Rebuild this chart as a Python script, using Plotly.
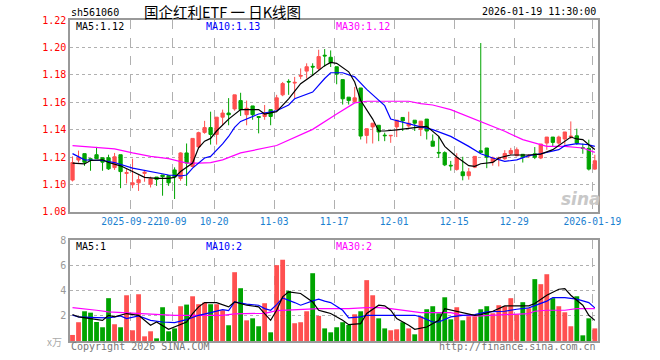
import plotly.graph_objects as go

# ---------------- data ----------------
dates = [
    "2025-09-08","2025-09-09","2025-09-10","2025-09-11","2025-09-12","2025-09-15","2025-09-16","2025-09-17","2025-09-18","2025-09-19",
    "2025-09-22","2025-09-23","2025-09-24","2025-09-25","2025-09-26","2025-09-29","2025-09-30",
    "2025-10-09","2025-10-10","2025-10-13","2025-10-14","2025-10-15","2025-10-16","2025-10-17","2025-10-20","2025-10-21","2025-10-22",
    "2025-10-23","2025-10-24","2025-10-27","2025-10-28","2025-10-29","2025-10-30","2025-10-31",
    "2025-11-03","2025-11-04","2025-11-05","2025-11-06","2025-11-07","2025-11-10","2025-11-11","2025-11-12","2025-11-13","2025-11-14",
    "2025-11-17","2025-11-18","2025-11-19","2025-11-20","2025-11-21","2025-11-24","2025-11-25","2025-11-26","2025-11-27","2025-11-28",
    "2025-12-01","2025-12-02","2025-12-03","2025-12-04","2025-12-05","2025-12-08","2025-12-09","2025-12-10","2025-12-11","2025-12-12",
    "2025-12-15","2025-12-16","2025-12-17","2025-12-18","2025-12-19","2025-12-22","2025-12-23","2025-12-24","2025-12-25","2025-12-26",
    "2025-12-29","2025-12-30","2025-12-31",
    "2026-01-05","2026-01-06","2026-01-07","2026-01-08","2026-01-09","2026-01-12","2026-01-13","2026-01-14","2026-01-15","2026-01-16",
    "2026-01-19",
]

open_ = [1.1032,1.1178,1.1225,1.1188,1.1217,1.1195,1.1195,1.1123,1.1217,1.1081,
         1.0998,1.1012,1.1081,1.1002,1.1054,1.1069,1.1065,1.1106,1.1044,1.1230,
         1.1131,1.1274,1.1380,1.1415,1.1365,1.1491,1.1521,1.1551,1.1612,1.1509,
         1.1573,1.1496,1.1496,1.1546,1.1546,1.1654,1.1752,1.1740,1.1790,1.1827,
         1.1862,1.1847,1.1943,1.1928,1.1859,1.1765,1.1637,1.1605,1.1704,1.1358,
         1.1420,1.1432,1.1360,1.1355,1.1420,1.1489,1.1427,1.1469,1.1402,1.1477,
         1.1316,1.1234,1.1232,1.1140,1.1110,1.1092,1.1064,1.1126,1.1246,1.1266,
         1.1165,1.1185,1.1188,1.1226,1.1210,1.1220,1.1208,1.1224,1.1193,1.1302,
         1.1346,1.1302,1.1332,1.1349,1.1355,1.1268,1.1264,1.1112]
high = [1.1205,1.1247,1.1225,1.1190,1.1274,1.1195,1.1217,1.1230,1.1217,1.1114,
        1.1188,1.1067,1.1106,1.1057,1.1054,1.1069,1.1065,1.1125,1.1235,1.1299,
        1.1336,1.1385,1.1464,1.1531,1.1491,1.1546,1.1630,1.1654,1.1669,1.1612,
        1.1573,1.1496,1.1580,1.1546,1.1654,1.1748,1.1768,1.1785,1.1847,1.1884,
        1.1884,1.1983,1.1988,1.1978,1.1859,1.1765,1.1637,1.1711,1.1704,1.1407,
        1.1447,1.1432,1.1378,1.1358,1.1469,1.1489,1.1531,1.1469,1.1462,1.1477,
        1.1365,1.1353,1.1242,1.1172,1.1228,1.1202,1.1120,1.1205,1.2032,1.1266,
        1.1203,1.1203,1.1250,1.1267,1.1270,1.1220,1.1222,1.1273,1.1295,1.1346,
        1.1346,1.1356,1.1383,1.1460,1.1407,1.1298,1.1327,1.1217]
low = [1.1022,1.1160,1.1136,1.1100,1.1188,1.1100,1.1106,1.1106,1.0973,1.1007,
       1.0973,1.0953,1.1020,1.0978,1.0990,1.0918,1.0990,1.0894,1.1027,1.0990,
       1.1125,1.1267,1.1370,1.1291,1.1291,1.1432,1.1432,1.1538,1.1500,1.1432,
       1.1472,1.1373,1.1472,1.1432,1.1538,1.1644,1.1654,1.1630,1.1768,1.1773,
       1.1795,1.1835,1.1859,1.1857,1.1731,1.1583,1.1583,1.1600,1.1328,1.1299,
       1.1299,1.1316,1.1316,1.1304,1.1346,1.1390,1.1415,1.1390,1.1353,1.1328,
       1.1279,1.1193,1.1134,1.1101,1.1101,1.1030,1.1035,1.1119,1.1234,1.1119,
       1.1137,1.1132,1.1180,1.1215,1.1205,1.1160,1.1195,1.1185,1.1185,1.1253,
       1.1278,1.1290,1.1290,1.1332,1.1290,1.1224,1.1102,1.1107]
close = [1.1160,1.1195,1.1162,1.1180,1.1188,1.1163,1.1114,1.1202,1.1094,1.1086,
         1.1012,1.1035,1.1089,1.1042,1.1037,1.1057,1.1012,1.1054,1.1230,1.1156,
         1.1336,1.1378,1.1415,1.1365,1.1491,1.1521,1.1509,1.1654,1.1546,1.1556,
         1.1509,1.1489,1.1521,1.1496,1.1632,1.1736,1.1748,1.1745,1.1795,1.1859,
         1.1857,1.1933,1.1938,1.1889,1.1805,1.1625,1.1612,1.1632,1.1353,1.1407,
         1.1447,1.1383,1.1356,1.1358,1.1469,1.1464,1.1447,1.1447,1.1462,1.1390,
         1.1279,1.1230,1.1143,1.1136,1.1195,1.1064,1.1092,1.1205,1.1234,1.1199,
         1.1195,1.1190,1.1226,1.1248,1.1254,1.1200,1.1211,1.1198,1.1295,1.1346,
         1.1307,1.1346,1.1383,1.1352,1.1302,1.1264,1.1112,1.1173]
volume = [0.48,1.49,2.36,2.25,1.51,1.09,3.40,1.33,1.09,3.63,
          0.85,3.71,0.37,0.77,0.21,2.68,0.77,1.00,2.76,2.89,
          3.55,2.92,3.05,2.92,2.92,2.44,1.25,5.46,4.19,1.64,
          1.80,1.17,3.00,0.69,6.02,6.45,3.98,1.41,1.49,2.36,
          5.38,1.99,1.00,0.69,1.09,1.49,1.27,2.12,2.36,4.83,
          3.63,1.80,1.00,0.85,0.93,1.49,1.00,0.53,1.96,2.52,
          2.76,2.20,3.47,1.72,2.68,1.64,1.96,1.96,2.52,2.76,
          2.20,2.84,2.76,3.40,2.12,3.08,2.60,4.91,4.51,5.30,
          3.40,2.76,2.28,1.17,3.55,0.45,1.80,1.00]

# moving-average lines (candle index, value)
ma5_idx = [0,2,3,5,6,8,10,12,14,16,17,18,20,21,22,23,24,26,28,31,32,34,36,38,40,42,43,44,46,47,48,50,51,52,54,55,57,59,61,62,64,66,67,68,70,71,73,76,78,80,82,83,84,85,86,87]
ma5_val = [1.1156,1.1150,1.1175,1.1180,1.1160,1.1136,1.1094,1.1052,1.1044,1.1044,1.1052,1.1094,1.1156,1.1267,1.1316,1.1336,1.1390,1.1477,1.1546,1.1546,1.1514,1.1531,1.1625,1.1735,1.1797,1.1867,1.1891,1.1884,1.1822,1.1748,1.1612,1.1477,1.1390,1.1390,1.1398,1.1402,1.1415,1.1424,1.1351,1.1278,1.1200,1.1137,1.1132,1.1151,1.1161,1.1193,1.1215,1.1215,1.1222,1.1254,1.1315,1.1346,1.1332,1.1327,1.1290,1.1255]
ma10_idx = [0,2,5,7,10,13,16,18,19,20,22,23,25,26,27,28,31,34,36,37,40,42,43,45,47,49,52,53,56,58,60,63,66,68,70,72,74,76,78,81,82,84,86,87]
ma10_val = [1.1225,1.1180,1.1175,1.1160,1.1119,1.1094,1.1069,1.1062,1.1069,1.1119,1.1193,1.1205,1.1296,1.1350,1.1416,1.1460,1.1514,1.1538,1.1580,1.1625,1.1674,1.1773,1.1815,1.1815,1.1785,1.1694,1.1575,1.1477,1.1440,1.1420,1.1400,1.1351,1.1278,1.1224,1.1193,1.1168,1.1180,1.1210,1.1224,1.1254,1.1283,1.1298,1.1290,1.1278]
ma30_idx = [0,5,7,10,13,16,19,21,23,25,28,34,40,44,47,49,56,58,60,63,68,72,75,79,82,85,87]
ma30_val = [1.1284,1.1265,1.1260,1.1230,1.1205,1.1188,1.1156,1.1156,1.1160,1.1180,1.1230,1.1284,1.1402,1.1514,1.1595,1.1607,1.1607,1.1590,1.1580,1.1546,1.1461,1.1388,1.1327,1.1278,1.1278,1.1266,1.1234]

vma5_idx = [0,1,3,5,6,7,9,11,13,14,16,17,19,20,21,22,24,26,27,29,31,32,33,34,35,36,38,40,41,42,43,45,46,48,49,51,52,53,54,56,57,59,61,62,64,65,67,68,70,72,74,76,77,79,81,82,83,85,86,87]
vma5_val = [2.10,1.91,1.78,1.64,2.04,1.91,2.18,2.04,1.25,1.51,0.93,1.11,1.51,2.18,2.71,3.05,3.05,2.71,3.10,2.84,2.71,2.18,1.64,2.44,3.50,3.90,3.77,3.10,2.44,2.31,2.18,1.64,1.30,1.38,2.18,2.84,2.79,2.44,1.78,1.25,0.93,1.11,1.64,2.57,2.36,2.25,2.04,2.10,2.36,2.79,2.79,2.79,2.97,3.63,4.11,4.16,3.63,2.84,2.04,1.64]
vma10_idx = [0,1,4,6,8,9,11,13,15,17,19,21,23,25,26,27,29,31,32,33,34,35,37,38,40,41,42,43,45,46,48,49,53,57,58,60,61,63,65,67,69,72,74,76,79,80,82,84,86,87]
vma10_val = [2.04,1.91,1.86,1.83,1.99,1.78,1.99,1.64,1.51,1.46,1.70,2.04,2.25,2.49,2.41,3.10,2.92,2.84,2.57,2.44,2.89,3.42,3.05,2.84,3.18,3.32,3.16,3.05,2.44,1.83,1.91,2.04,2.04,2.04,1.91,1.51,1.51,1.91,2.04,2.10,2.31,2.36,2.52,2.63,3.16,3.45,3.45,3.32,3.05,2.63]
vma30_idx = [0,2,4,6,10,14,17,21,25,27,30,32,34,37,39,41,43,46,49,51,53,56,58,63,65,68,70,73,76,77,79,82,84,87]
vma30_val = [2.65,2.57,2.44,2.31,2.23,2.12,2.04,2.04,2.04,2.15,2.18,2.20,2.41,2.49,2.52,2.57,2.57,2.57,2.65,2.65,2.57,2.36,2.25,2.25,2.04,1.99,2.04,2.10,2.18,2.36,2.44,2.44,2.57,2.57]

label_dates = ["2025-09-22","2025-10-09","2025-10-20","2025-11-03","2025-11-17",
               "2025-12-01","2025-12-15","2025-12-29","2026-01-19"]
label_text = ["2025-09-22","10-09","10-20","11-03","11-17","12-01","12-15","12-29","2026-01-19"]

# ---------------- styling ----------------
RED = "#ff5050"
GREEN = "#00a400"
MONO = "DejaVu Sans Mono"
GRID = "#b0b0b0"

xs = list(range(len(dates)))
tickpos = [dates.index(d) - 0.42 for d in label_dates]
vol_colors = [RED if c >= o else GREEN for o, c in zip(open_, close)]

fig = go.Figure()
fig.add_trace(go.Candlestick(
    x=xs, open=open_, high=high, low=low, close=close,
    increasing=dict(line=dict(color=RED, width=1), fillcolor=RED),
    decreasing=dict(line=dict(color=GREEN, width=1), fillcolor=GREEN),
    whiskerwidth=0, xaxis="x", yaxis="y", hoverinfo="skip", showlegend=False))
fig.add_trace(go.Scatter(x=ma30_idx, y=ma30_val, mode="lines", line=dict(color="#ff00ff", width=1.2),
                         xaxis="x", yaxis="y", showlegend=False, hoverinfo="skip"))
fig.add_trace(go.Scatter(x=ma10_idx, y=ma10_val, mode="lines", line=dict(color="#0000ff", width=1.2),
                         xaxis="x", yaxis="y", showlegend=False, hoverinfo="skip"))
fig.add_trace(go.Scatter(x=ma5_idx, y=ma5_val, mode="lines", line=dict(color="#000000", width=1.2),
                         xaxis="x", yaxis="y", showlegend=False, hoverinfo="skip"))

fig.add_trace(go.Bar(x=xs, y=volume, marker=dict(color=vol_colors, line=dict(width=0)), width=0.8,
                     xaxis="x2", yaxis="y2", showlegend=False, hoverinfo="skip"))
fig.add_trace(go.Scatter(x=vma30_idx, y=vma30_val, mode="lines", line=dict(color="#ff00ff", width=1.2),
                         xaxis="x2", yaxis="y2", showlegend=False, hoverinfo="skip"))
fig.add_trace(go.Scatter(x=vma10_idx, y=vma10_val, mode="lines", line=dict(color="#0000ff", width=1.2),
                         xaxis="x2", yaxis="y2", showlegend=False, hoverinfo="skip"))
fig.add_trace(go.Scatter(x=vma5_idx, y=vma5_val, mode="lines", line=dict(color="#000000", width=1.2),
                         xaxis="x2", yaxis="y2", showlegend=False, hoverinfo="skip"))

L, R, T, B = 70, 597.7, 20, 340.7
W, H = 660, 360
main_bottom, vol_top = 211.7, 240.0

def xp(x):
    return (x - L) / (R - L)

def yp(y):
    return (B - y) / (B - T)

xr = [-0.42, 87.53]
common_x = dict(range=xr, showgrid=True, gridcolor=GRID, griddash="dash", gridwidth=1,
                tickvals=tickpos, zeroline=False, showline=True, mirror=True,
                linecolor="#999999", linewidth=1.5, ticks="", fixedrange=True,
                automargin=False, tickangle=0)
common_y = dict(showgrid=True, gridcolor=GRID, griddash="dot", zeroline=False,
                showline=True, mirror=True, linecolor="#999999", linewidth=1.5, ticks="",
                fixedrange=True, automargin=False)

fig.update_layout(
    width=W, height=H, paper_bgcolor="white", plot_bgcolor="white",
    margin=dict(l=L, r=W - R, t=T, b=H - B, autoexpand=False),
    boxgap=0.22,
    xaxis=dict(common_x, domain=[0, 1], anchor="y", rangeslider=dict(visible=False),
               ticktext=label_text, showticklabels=True,
               tickfont=dict(family=MONO, size=9.6, color="#1a7fd0")),
    xaxis2=dict(common_x, domain=[0, 1], anchor="y2", matches="x", showticklabels=False),
    yaxis=dict(common_y, domain=[yp(main_bottom), 1], range=[1.08, 1.22], dtick=0.02, tick0=1.08,
               tickformat=".2f", tickfont=dict(family=MONO, size=10, color="#ff0000")),
    yaxis2=dict(common_y, domain=[0, yp(vol_top)], range=[0, 8], tickvals=[2, 4, 6, 8],
                tickfont=dict(family=MONO, size=10, color="#999999")),
)

def ann(text, x, y, color="#000000", size=10, anchor="left", family=MONO, **kw):
    fig.add_annotation(text=text, x=xp(x), y=yp(y), xref="paper", yref="paper",
                       xanchor=anchor, yanchor="middle", showarrow=False,
                       font=dict(family=family, size=size, color=color, **kw))

ann("sh561060", 69, 13)
ann("国企红利ETF 一 日K线图", 222, 12, size=14.5, anchor="center", family="Noto Sans CJK SC")
ann("2026-01-19 11:30:00", 598, 12, anchor="right")
ann("MA5:1.12", 74, 26)
ann("MA10:1.13", 204, 26, color="#0000ff")
ann("MA30:1.12", 334, 26, color="#ff00ff")
ann("MA5:1", 74, 246.5)
ann("MA10:2", 204, 246.5, color="#0000ff")
ann("MA30:2", 334, 246.5, color="#ff00ff")
ann("x万", 64, 341, color="#aaaaaa", anchor="right", family="Noto Sans CJK SC")
ann("Copyright 2026 SINA.COM", 69, 346, color="#777777")
ann("http://finance.sina.com.cn", 598, 346, color="#777777", anchor="right")
ann("sina", 581, 199, color="#c8c8c8", size=17, anchor="center", family="DejaVu Sans",
    weight="bold", style="italic")

fig.write_html("out.html", config={"displayModeBar": False},
               post_script="document.body.style.margin='0';")
